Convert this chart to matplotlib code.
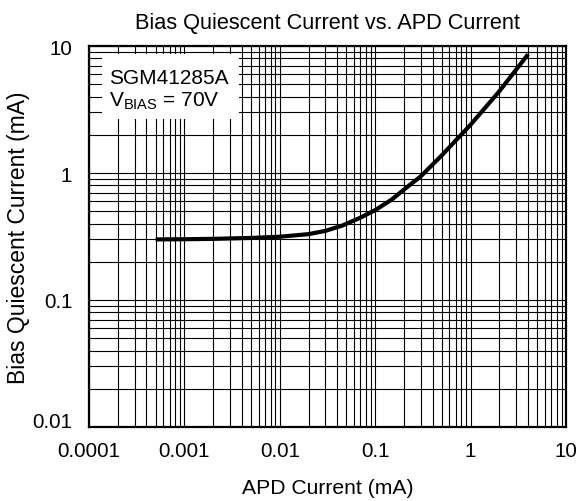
import matplotlib
matplotlib.use("Agg")
import matplotlib.pyplot as plt
import matplotlib.transforms as mtransforms
from matplotlib.patches import Rectangle
from matplotlib.ticker import LogLocator, NullFormatter

plt.rcParams['font.family'] = ['Liberation Sans', 'DejaVu Sans']
plt.rcParams['mathtext.fontset'] = 'custom'
plt.rcParams['mathtext.rm'] = 'Liberation Sans'
plt.rcParams['mathtext.it'] = 'Liberation Sans'

apd_current = [0.0005, 0.001, 0.002, 0.005, 0.01, 0.02, 0.03, 0.045, 0.07, 0.1, 0.15, 0.2, 0.3, 0.5, 1, 2, 4]
bias_current = [0.300, 0.301, 0.303, 0.308, 0.315, 0.33, 0.35, 0.385, 0.445, 0.51, 0.62, 0.74, 0.94, 1.38, 2.4, 4.4, 8.6]

x_ticks = [0.0001, 0.001, 0.01, 0.1, 1, 10]
x_labels = ['0.0001', '0.001', '0.01', '0.1', '1', '10']
y_ticks = [0.01, 0.1, 1, 10]
y_labels = ['0.01', '0.1', '1', '10']

fig = plt.figure(figsize=(5.77, 5.02), dpi=100)
ax = fig.add_axes([89/577, 1-428/502, 477/577, 381/502])
ax.set_xscale('log')
ax.set_yscale('log')
ax.set_xlim(1e-4, 10)
ax.set_ylim(0.01, 10)

ax.plot(apd_current, bias_current, color='black', lw=3.0, solid_capstyle='butt',
        solid_joinstyle='round', zorder=5)

ax.set_xticks(x_ticks)
ax.set_xticklabels(x_labels, fontsize=14.8)
ax.set_yticks(y_ticks)
ax.set_yticklabels(y_labels, fontsize=14.8)
ax.xaxis.set_minor_locator(LogLocator(base=10, subs=range(2, 10)))
ax.yaxis.set_minor_locator(LogLocator(base=10, subs=range(2, 10)))
ax.xaxis.set_minor_formatter(NullFormatter())
ax.yaxis.set_minor_formatter(NullFormatter())
ax.tick_params(which='both', length=0)
ax.tick_params(axis='x', pad=10)
ax.tick_params(axis='y', pad=12)
ax.grid(True, which='both', color='black', lw=0.8)
ax.set_axisbelow(True)
for s in ax.spines.values():
    s.set_linewidth(1.6)
    s.set_zorder(10)

# lift the lowest y tick label slightly, as in the reference
lbl = ax.get_yticklabels()[0]
lbl.set_transform(lbl.get_transform() + mtransforms.ScaledTranslation(0, 7/100, fig.dpi_scale_trans))

ax.add_patch(Rectangle((0.027, 0.808), 0.287, 0.171, transform=ax.transAxes,
                       facecolor='white', edgecolor='none', zorder=3))
ax.text(0.042, 0.903, 'SGM41285A', transform=ax.transAxes, fontsize=15,
        ha='left', va='baseline', zorder=6)
ax.text(0.042, 0.843, r'V$_{\mathrm{BIAS}}$ = 70V', transform=ax.transAxes, fontsize=15,
        ha='left', va='baseline', zorder=6)

ax.set_title('Bias Quiescent Current vs. APD Current', fontsize=15.7, pad=13)
ax.set_xlabel('APD Current (mA)', fontsize=15.2, labelpad=13)
ax.set_ylabel('Bias Quiescent Current (mA)', fontsize=16.5, labelpad=2)

fig.savefig('out.png', dpi=100)
